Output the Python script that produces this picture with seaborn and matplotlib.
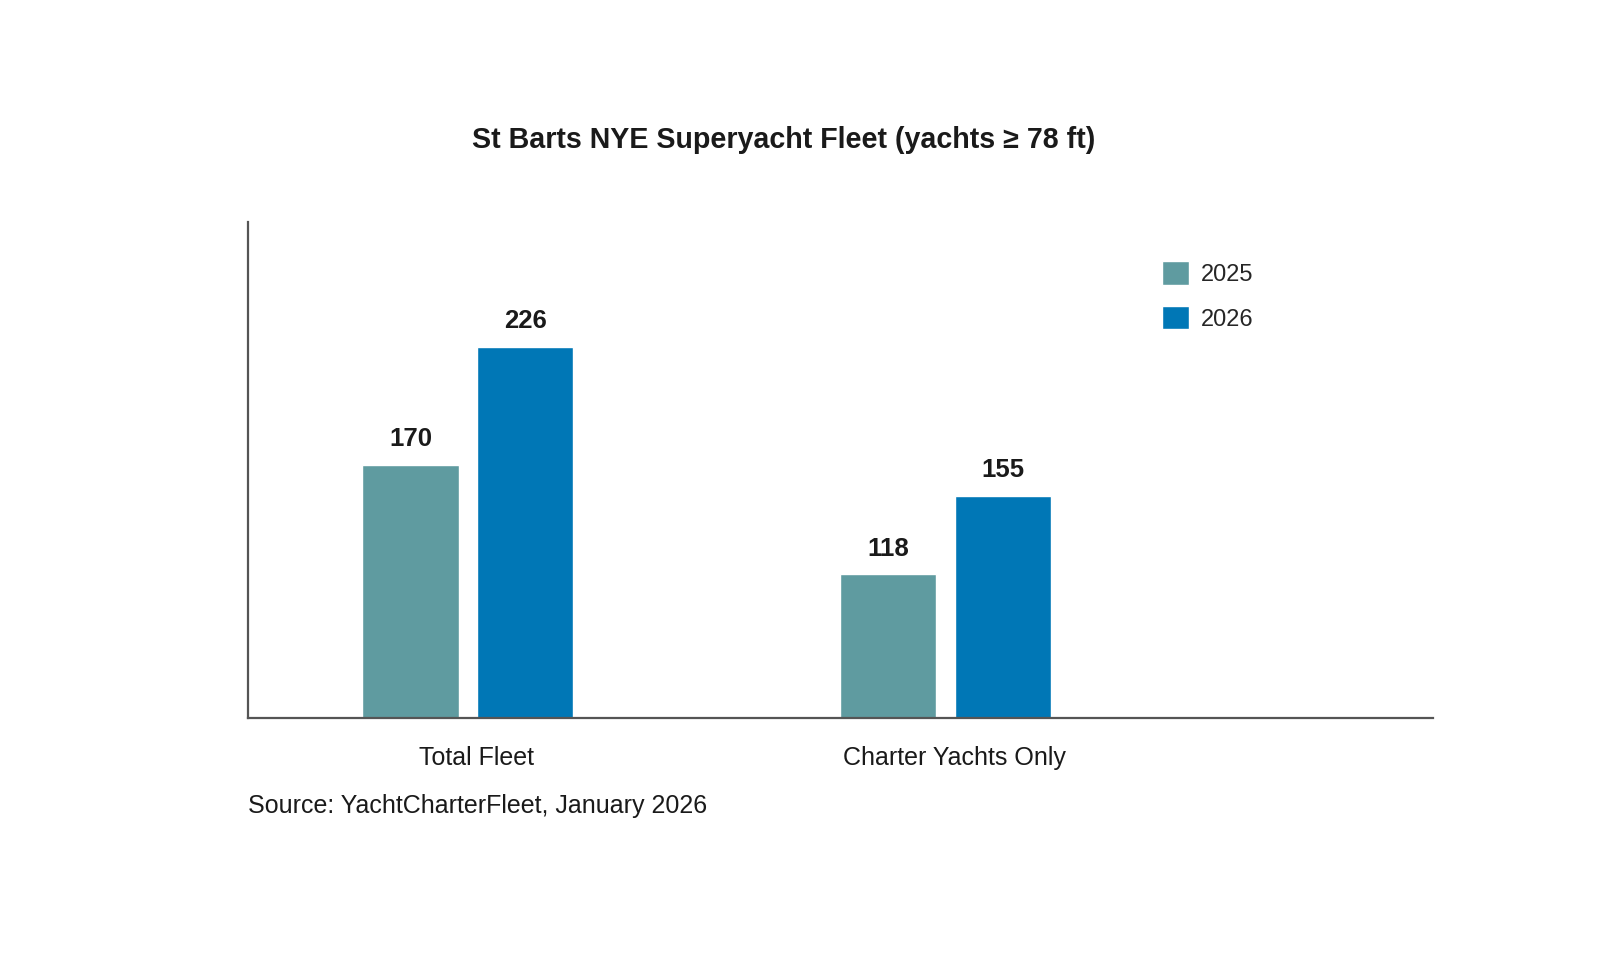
import matplotlib
matplotlib.use("Agg")
import matplotlib.pyplot as plt
import matplotlib.transforms as mtransforms
import pandas as pd
import seaborn as sns

# data
categories = ["Total Fleet", "Charter Yachts Only"]
years = ["2025", "2026"]
values_2025 = [170, 118]
values_2026 = [226, 155]

df = pd.DataFrame({
    "category": categories * 2,
    "year": [years[0]] * 2 + [years[1]] * 2,
    "count": values_2025 + values_2026,
})

sns.set_theme(style="white")
plt.rcParams["font.family"] = ["Liberation Sans", "DejaVu Sans"]

fig = plt.figure(figsize=(16, 9.6), dpi=100)
ax = fig.add_axes([248 / 1600, 1 - 718 / 960, (1433 - 248) / 1600, (718 - 222) / 960])

palette = {"2025": "#5F9BA0", "2026": "#0077B6"}
sns.barplot(data=df, x="category", y="count", hue="year", palette=palette,
            width=0.48, gap=0.16, saturation=1, ax=ax, legend=True)

ax.set_xlim(-0.46, 2.02)
ax.set_ylim(50, 285)
ax.set_yticks([])
ax.set_xlabel("")
ax.set_ylabel("")

for c in ax.containers:
    ax.bar_label(c, padding=10, fontsize=18.5, fontweight="bold", color="#1a1a1a")

for side in ["top", "right"]:
    ax.spines[side].set_visible(False)
for side in ["left", "bottom"]:
    ax.spines[side].set_color("#555555")
    ax.spines[side].set_linewidth(1.6)

ax.tick_params(axis="x", length=0, labelsize=18, labelcolor="#1a1a1a", pad=20)
offset = mtransforms.ScaledTranslation(9 / 100, 0, fig.dpi_scale_trans)
for lbl in ax.get_xticklabels():
    lbl.set_transform(lbl.get_transform() + offset)

ax.legend(loc="upper left", bbox_to_anchor=(1141 / 1600, 1 - 240 / 960),
          bbox_transform=fig.transFigure, frameon=False, fontsize=17,
          handlelength=1.15, handleheight=1.15, labelspacing=0.85,
          handletextpad=0.5, title=None)

fig.text(784 / 1600, 1 - 140 / 960, "St Barts NYE Superyacht Fleet (yachts \u2265 78 ft)",
         ha="center", va="center", fontsize=20.6, fontweight="bold", color="#1a1a1a")
fig.text(248 / 1600, 1 - 806 / 960, "Source: YachtCharterFleet, January 2026",
         ha="left", va="center", fontsize=18, color="#1a1a1a")

fig.savefig("out.png", dpi=100, facecolor="white")
